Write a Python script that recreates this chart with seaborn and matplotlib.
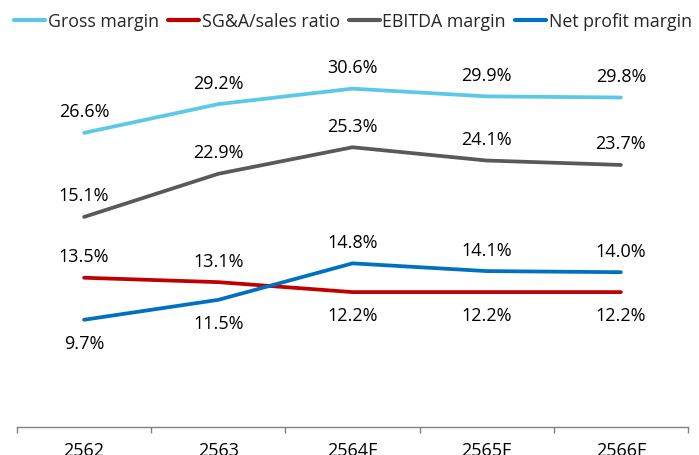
import matplotlib
matplotlib.use("Agg")
import matplotlib.pyplot as plt
import seaborn as sns
import pandas as pd
from matplotlib.ticker import FixedLocator, NullFormatter

years = ["2562", "2563", "2564F", "2565F", "2566F"]
gross_margin = [26.6, 29.2, 30.6, 29.9, 29.8]
sga_ratio = [13.5, 13.1, 12.2, 12.2, 12.2]
# plotted positions as drawn in the picture (first point drawn higher than its label)
ebitda_margin = [19.0, 22.9, 25.3, 24.1, 23.7]
net_margin = [9.7, 11.5, 14.8, 14.1, 14.0]

gross_labels = ["26.6%", "29.2%", "30.6%", "29.9%", "29.8%"]
sga_labels = ["13.5%", "13.1%", "12.2%", "12.2%", "12.2%"]
ebitda_labels = ["15.1%", "22.9%", "25.3%", "24.1%", "23.7%"]
net_labels = ["9.7%", "11.5%", "14.8%", "14.1%", "14.0%"]

series_names = ["Gross margin", "SG&A/sales ratio", "EBITDA margin", "Net profit margin"]
colors = ["#5BC8E6", "#C00000", "#595959", "#0070C0"]
# label placement: +1 above, -1 below
label_pos = {
    "Gross margin": [1, 1, 1, 1, 1],
    "SG&A/sales ratio": [1, 1, -1, -1, -1],
    "EBITDA margin": [1, 1, 1, 1, 1],
    "Net profit margin": [-1, -1, 1, 1, 1],
}
label_text = dict(zip(series_names, [gross_labels, sga_labels, ebitda_labels, net_labels]))

sns.set_theme(style="white")
plt.rcParams["font.family"] = ["Open Sans", "DejaVu Sans"]

rows = []
for name, vals in zip(series_names, [gross_margin, sga_ratio, ebitda_margin, net_margin]):
    for i, v in enumerate(vals):
        rows.append({"x": i, "year": years[i], "value": v, "series": name})
df = pd.DataFrame(rows)

fig = plt.figure(figsize=(6.99, 4.56), dpi=100)
ax = fig.add_axes([17 / 699, (456 - 428) / 456, (688 - 17) / 699, (428 - 41) / 456])

sns.lineplot(data=df, x="x", y="value", hue="series", hue_order=series_names,
             palette=colors, linewidth=2.7, ax=ax, legend=True)

for name in series_names:
    sub = df[df["series"] == name]
    for (_, r), p, t in zip(sub.iterrows(), label_pos[name], label_text[name]):
        off = 15.5 if p > 0 else -16.5
        ax.annotate(t, (r["x"], r["value"]), xytext=(0, off),
                    textcoords="offset points", ha="center", va="center",
                    fontsize=13, color="black")

ax.set_xlim(-0.5, 4.5)
ax.set_ylim(0, 35)
ax.xaxis.set_major_locator(FixedLocator([-0.5, 0.5, 1.5, 2.5, 3.5, 4.5]))
ax.xaxis.set_major_formatter(NullFormatter())
ax.xaxis.set_minor_locator(FixedLocator(list(range(len(years)))))
ax.set_xticklabels(years, minor=True)
ax.tick_params(axis="x", which="major", direction="out", length=4, width=1, color="#808080", bottom=True)
ax.tick_params(axis="x", which="minor", length=0, labelsize=13, pad=10, labelcolor="black")
ax.set_yticks([])
ax.set_xlabel("")
ax.set_ylabel("")
for s in ["top", "right", "left"]:
    ax.spines[s].set_visible(False)
ax.spines["bottom"].set_color("#808080")
ax.spines["bottom"].set_linewidth(1)

handles, labels = ax.get_legend_handles_labels()
for h in handles:
    h.set_linewidth(3)
ax.legend(handles, labels, loc="center", bbox_to_anchor=(353 / 699, (456 - 22) / 456),
          bbox_transform=fig.transFigure,
          ncol=4, frameon=False, fontsize=12.8, handlelength=1.75, handletextpad=0.15,
          columnspacing=0.5, borderaxespad=0, borderpad=0)

fig.savefig("out.png", dpi=100)
